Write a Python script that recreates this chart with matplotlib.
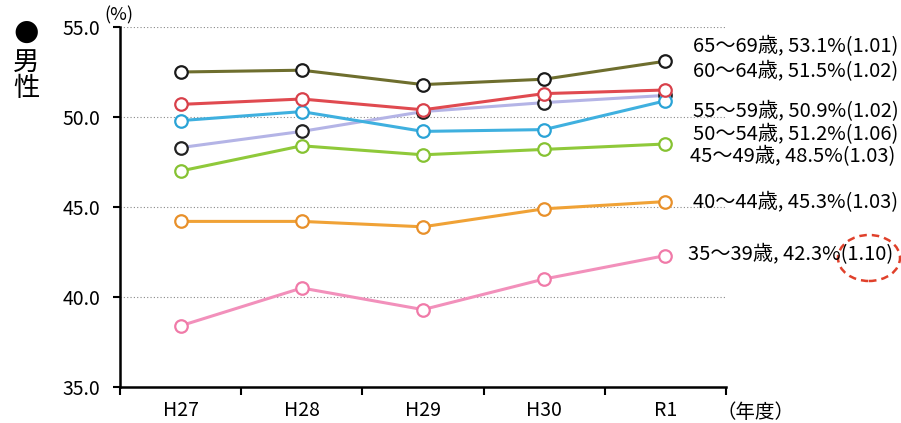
import numpy as np
import matplotlib
matplotlib.use("Agg")
import matplotlib.pyplot as plt
from matplotlib.patches import Ellipse

plt.rcParams['font.family'] = ['Noto Sans CJK JP', 'DejaVu Sans']

years = ['H27', 'H28', 'H29', 'H30', 'R1']

# 男性 age groups, values in %
g65_69 = [52.5, 52.6, 51.8, 52.1, 53.1]
g60_64 = [50.7, 51.0, 50.4, 51.3, 51.5]
g55_59 = [49.8, 50.3, 49.2, 49.3, 50.9]
g50_54 = [48.3, 49.2, 50.3, 50.8, 51.2]
g45_49 = [47.0, 48.4, 47.9, 48.2, 48.5]
g40_44 = [44.2, 44.2, 43.9, 44.9, 45.3]
g35_39 = [38.4, 40.5, 39.3, 41.0, 42.3]

labels = ['65〜69歳, 53.1%(1.01)', '60〜64歳, 51.5%(1.02)', '55〜59歳, 50.9%(1.02)',
          '50〜54歳, 51.2%(1.06)', '45〜49歳, 48.5%(1.03)', '40〜44歳, 45.3%(1.03)',
          '35〜39歳, 42.3%(1.10)']

fig = plt.figure(figsize=(9.01, 4.23), dpi=100)
ax = fig.add_axes([120/901, 1-387/423, 606/901, 360/423])

x = np.arange(len(years))
# (values, line colour, marker edge colour)
series = [
    (g35_39, '#f290bb', '#f07aa8'),
    (g40_44, '#f0a236', '#e8902a'),
    (g45_49, '#8fc93a', '#86c232'),
    (g50_54, '#b4b4e6', '#222222'),
    (g55_59, '#3fb0df', '#2aa3d6'),
    (g60_64, '#e04a50', '#d8404a'),
    (g65_69, '#6e6e2e', '#1a1a1a'),
]
for vals, lc, mc in series:
    ax.plot(x, vals, '-', color=lc, lw=2.2, marker='o', ms=9,
            mfc='white', mec=mc, mew=1.6, zorder=3)

ax.set_xlim(-0.5, 4.5)
ax.set_ylim(35, 55)
ax.set_yticks([35, 40, 45, 50, 55])
ax.set_yticklabels(['35.0', '40.0', '45.0', '50.0', '55.0'], fontsize=14)
ax.set_xticks(x)
ax.set_xticklabels(years, fontsize=14)
ax.set_xticks(np.arange(-0.5, 4.6, 1), minor=True)
ax.tick_params(axis='x', which='major', length=0, pad=9)
ax.tick_params(axis='x', which='minor', length=6, width=1.5, direction='out')
ax.tick_params(axis='y', length=5, width=1.5, direction='out', pad=9)
for yv in [40, 45, 50, 55]:
    ax.axhline(yv, color='#888888', lw=0.8, ls=(0, (1, 2)), zorder=1)
for s in ['top', 'right']:
    ax.spines[s].set_visible(False)
ax.spines['left'].set_linewidth(1.8)
ax.spines['bottom'].set_linewidth(1.8)

fig.text(119/901, 1-15/423, '(%)', fontsize=13, va='center', ha='center')
fig.text(716/901, 1-412/423, '（年度）', fontsize=14, va='center', ha='left')

label_pos = [(693, 47), (693, 72), (693, 112), (693, 135), (690, 157), (693, 203), (688, 255)]
for t, (px, py) in zip(labels, label_pos):
    fig.text(px/901, 1-py/423, t, fontsize=14.5, va='center', ha='left')

fig.text(26/901, 1-32/423, '●', fontsize=21, va='center', ha='center',
         family='DejaVu Sans')
fig.text(26/901, 1-62/423, '男', fontsize=19, va='center', ha='center')
fig.text(26/901, 1-88/423, '性', fontsize=19, va='center', ha='center')

ell = Ellipse((869/901, 1-258/423), 62/901, 46/423, transform=fig.transFigure,
              fill=False, ec='#e0402a', lw=1.8, ls=(0, (3, 2)))
fig.patches.append(ell)

fig.savefig('out.png', dpi=100)
